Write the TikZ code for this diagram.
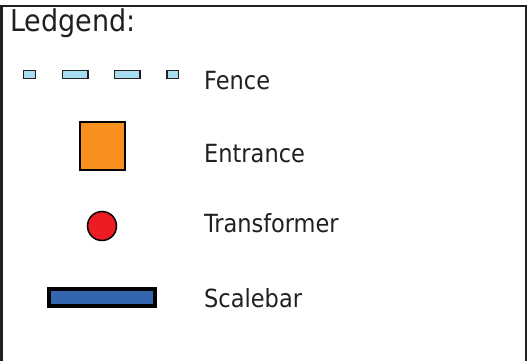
\documentclass[tikz,border=0pt]{standalone}
\usepackage{fontspec}
\setmainfont{DejaVu Sans Condensed}
\begin{document}
\begin{tikzpicture}[x=1pt,y=-1pt,
  ink/.style={draw=inkgray},
  fencedash/.style={draw=inkgray, line width=1.2pt, fill=fenceblue},
  label/.style={anchor=base west, inner sep=0pt, text=inkgray, font=\fontsize{25}{30}\selectfont},
]
\definecolor{inkgray}{HTML}{231F20}
\definecolor{fenceblue}{HTML}{A7DCF1}
\definecolor{entrorange}{HTML}{F7901E}
\definecolor{transred}{HTML}{ED1C24}
\definecolor{scaleblue}{HTML}{3465AF}
\useasboundingbox (0,0) rectangle (529,361);

% legend frame (open at the bottom)
\draw[inkgray, line width=2.5pt] (1.5,361) -- (1.5,6) -- (525.8,6) -- (525.8,361);

% title
\node[label, font=\fontsize{30}{36}\selectfont] (title) at (10,32) {Ledgend:};

% fence symbol: row of dashes
\draw[fencedash] (23.5,70.5) rectangle (35.5,78.5);
\draw[fencedash] (62.5,70.5) rectangle (88,78.5);
\draw[fencedash] (114.5,70.5) rectangle (140,78.5);
\draw[fencedash] (167,70.5) rectangle (178.5,78.5);
\node[label] (fence) at (204,89) {Fence};

% entrance symbol
\draw[black, line width=2pt, fill=entrorange] (80,122) rectangle (124.5,169.5);
\node[label] (entrance) at (204,162) {Entrance};

% transformer symbol
\draw[black, line width=1.5pt, fill=transred] (102,226) circle (14.5);
\node[label] (transformer) at (204,232) {Transformer};

% scalebar symbol
\draw[black, line width=3.5pt, fill=scaleblue] (48.8,288.8) rectangle (155.2,306.2);
\node[label] (scalebar) at (204,307) {Scalebar};
\end{tikzpicture}
\end{document}
